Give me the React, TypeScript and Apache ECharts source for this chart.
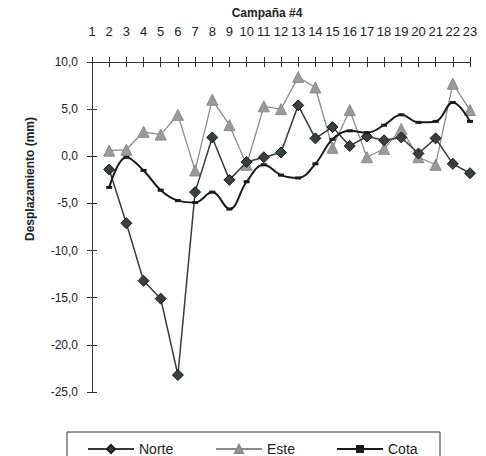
import React, { useEffect, useRef } from "react";
import * as echarts from "echarts";

const categories = ["1","2","3","4","5","6","7","8","9","10","11","12","13","14","15","16","17","18","19","20","21","22","23"];
const norte = [null, -1.4, -7.1, -13.2, -15.1, -23.2, -3.8, 2.0, -2.5, -0.6, -0.1, 0.4, 5.4, 1.9, 3.1, 1.1, 2.1, 1.7, 2.0, 0.3, 1.9, -0.8, -1.8];
const este = [null, 0.6, 0.7, 2.6, 2.3, 4.4, -1.5, 6.0, 3.3, -0.9, 5.3, 5.0, 8.4, 7.3, 0.9, 4.9, -0.1, 0.8, 2.9, -0.1, -0.9, 7.7, 4.9];
const cota = [null, -3.3, -0.1, -1.5, -3.6, -4.7, -4.9, -3.8, -5.6, -2.7, -0.9, -2.0, -2.3, -0.8, 1.8, 2.7, 2.5, 3.3, 4.4, 3.6, 3.7, 5.7, 3.7];

const FONT = "'Liberation Sans', Arial, sans-serif";

export default function App() {
  const ref = useRef<HTMLDivElement>(null);
  useEffect(() => {
    if (!ref.current) return;
    const chart = echarts.init(ref.current, null, { renderer: "svg" });
    const yCommon = {
      type: "value",
      min: -25,
      max: 10,
      interval: 5,
      position: "left",
      splitLine: { show: false },
      axisLine: { show: true, onZero: false, lineStyle: { color: "#333", width: 1 } },
    };
    const xCommon = {
      type: "category",
      data: categories,
      boundaryGap: false,
      position: "top",
      splitLine: { show: false },
      axisLine: { show: true, onZero: false, lineStyle: { color: "#333", width: 1 } },
    };
    const legendCommon = {
      top: 437,
      itemWidth: 46,
      itemHeight: 10,
      textStyle: { fontFamily: FONT, fontSize: 14, color: "#222" },
    };
    chart.setOption({
      animation: false,
      backgroundColor: "#fff",
      textStyle: { fontFamily: FONT },
      title: {
        text: "Campaña #4",
        left: 267,
        top: 6,
        padding: 0,
        textAlign: "center",
        textStyle: { fontFamily: FONT, fontSize: 12, fontWeight: "bold", color: "#222", lineHeight: 14 },
      },
      grid: { left: 92, right: 16, top: 62, height: 330 },
      xAxis: [
        {
          ...xCommon,
          axisTick: { show: true, inside: false, length: 5, interval: 0, lineStyle: { color: "#333" } },
          axisLabel: { show: true, interval: 0, margin: 24, fontSize: 13, lineHeight: 14, color: "#222", fontFamily: FONT },
        },
        {
          ...xCommon,
          axisTick: { show: true, inside: true, length: 5, interval: 0, lineStyle: { color: "#333" } },
          axisLabel: { show: false },
        },
      ],
      yAxis: [
        {
          ...yCommon,
          axisTick: { show: true, inside: false, length: 5, lineStyle: { color: "#333" } },
          axisLabel: {
            show: true,
            margin: 14,
            fontSize: 12,
            color: "#222",
            fontFamily: FONT,
            formatter: (v: number) => v.toFixed(1).replace(".", ","),
          },
        },
        {
          ...yCommon,
          axisTick: { show: true, inside: true, length: 5, lineStyle: { color: "#333" } },
          axisLabel: { show: false },
        },
      ],
      legend: [
        { ...legendCommon, left: 82, data: ["Norte"] },
        { ...legendCommon, left: 210, data: ["Este"] },
        { ...legendCommon, left: 331, data: ["Cota"] },
      ],
      graphic: [
        {
          type: "rect",
          shape: { x: 67, y: 432, width: 373, height: 40 },
          style: { fill: "none", stroke: "#333", lineWidth: 1 },
          silent: true,
        },
        {
          type: "text",
          x: 30,
          y: 179,
          rotation: Math.PI / 2,
          style: {
            text: "Desplazamiento (mm)",
            fontFamily: FONT,
            fontSize: 12,
            fontWeight: "bold",
            fill: "#222",
            align: "center",
            verticalAlign: "middle",
          },
        },
      ],
      series: [
        {
          name: "Este",
          type: "line",
          data: este,
          symbol: "triangle",
          symbolSize: 11,
          itemStyle: { color: "#9a9a9a", borderColor: "#8a8a8a", borderWidth: 1 },
          lineStyle: { color: "#8c8c8c", width: 1.3 },
          z: 2,
        },
        {
          name: "Norte",
          type: "line",
          data: norte,
          symbol: "diamond",
          symbolSize: 11,
          itemStyle: { color: "#34423a", borderColor: "#1c1c1c", borderWidth: 1 },
          lineStyle: { color: "#3a3a3a", width: 1.5 },
          z: 3,
        },
        {
          name: "Cota",
          type: "line",
          data: cota,
          smooth: 0.4,
          symbol: "rect",
          symbolSize: [6, 3],
          itemStyle: { color: "#1a1a1a" },
          lineStyle: { color: "#1a1a1a", width: 2 },
          z: 4,
        },
      ],
    });
    return () => chart.dispose();
  }, []);
  return (
    <div
      ref={ref}
      style={{ position: "fixed", left: 0, top: 0, width: 486, height: 456, background: "#fff" }}
    />
  );
}
